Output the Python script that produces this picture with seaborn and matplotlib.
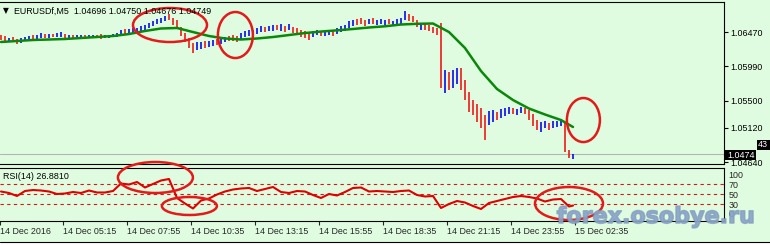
import numpy as np
import pandas as pd
import matplotlib
matplotlib.use("Agg")
import matplotlib.pyplot as plt
import seaborn as sns
from matplotlib.patches import Ellipse, Rectangle
import matplotlib.patheffects as pe

# ---------------- data ----------------
symbol_title = "EURUSDf,M5  1.04696 1.04750 1.04676 1.04749"
bid_price = 1.04749

bar_high = [
    1.06428, 1.06414, 1.06386, 1.06400, 1.06372, 1.06386, 1.06400, 1.06414, 1.06428, 1.06428,
    1.06456, 1.06442, 1.06442, 1.06442, 1.06456, 1.06470, 1.06442, 1.06428, 1.06428, 1.06428,
    1.06428, 1.06428, 1.06428, 1.06428, 1.06428, 1.06442, 1.06428, 1.06428, 1.06442, 1.06456,
    1.06499, 1.06513, 1.06513, 1.06527, 1.06527, 1.06555, 1.06569, 1.06597, 1.06625, 1.06653,
    1.06668, 1.06696, 1.06724, 1.06668, 1.06639, 1.06541, 1.06456, 1.06386, 1.06316, 1.06330,
    1.06330, 1.06344, 1.06344, 1.06358, 1.06372, 1.06386, 1.06400, 1.06414, 1.06428, 1.06414,
    1.06456, 1.06485, 1.06499, 1.06499, 1.06527, 1.06555, 1.06541, 1.06555, 1.06569, 1.06569,
    1.06583, 1.06555, 1.06583, 1.06541, 1.06527, 1.06499, 1.06485, 1.06470, 1.06485, 1.06499,
    1.06485, 1.06485, 1.06499, 1.06485, 1.06527, 1.06555, 1.06569, 1.06625, 1.06639, 1.06653,
    1.06668, 1.06639, 1.06653, 1.06668, 1.06639, 1.06653, 1.06639, 1.06653, 1.06625, 1.06653,
    1.06668, 1.06766, 1.06724, 1.06696, 1.06639, 1.06597, 1.06583, 1.06569, 1.06541, 1.06527,
    1.06597, 1.05935, 1.05907, 1.05935, 1.05964, 1.05964, 1.05795, 1.05626, 1.05513, 1.05457,
    1.05400, 1.05302, 1.05358, 1.05372, 1.05344, 1.05386, 1.05400, 1.05414, 1.05400, 1.05386,
    1.05414, 1.05400, 1.05372, 1.05316, 1.05231, 1.05203, 1.05217, 1.05189, 1.05217, 1.05217,
    1.05231, 1.05203, 1.04809, 1.04750,
]
bar_low = [
    1.06358, 1.06344, 1.06330, 1.06330, 1.06301, 1.06316, 1.06344, 1.06358, 1.06372, 1.06372,
    1.06386, 1.06386, 1.06386, 1.06400, 1.06400, 1.06400, 1.06386, 1.06386, 1.06386, 1.06386,
    1.06386, 1.06400, 1.06386, 1.06400, 1.06386, 1.06372, 1.06386, 1.06386, 1.06400, 1.06400,
    1.06428, 1.06442, 1.06456, 1.06456, 1.06470, 1.06485, 1.06499, 1.06527, 1.06555, 1.06583,
    1.06597, 1.06625, 1.06639, 1.06569, 1.06527, 1.06414, 1.06330, 1.06245, 1.06175, 1.06217,
    1.06231, 1.06245, 1.06259, 1.06273, 1.06287, 1.06301, 1.06330, 1.06344, 1.06344, 1.06330,
    1.06372, 1.06400, 1.06414, 1.06414, 1.06442, 1.06470, 1.06470, 1.06485, 1.06485, 1.06499,
    1.06485, 1.06470, 1.06499, 1.06456, 1.06428, 1.06400, 1.06386, 1.06358, 1.06400, 1.06428,
    1.06414, 1.06414, 1.06428, 1.06414, 1.06442, 1.06470, 1.06485, 1.06527, 1.06555, 1.06569,
    1.06583, 1.06555, 1.06583, 1.06583, 1.06569, 1.06583, 1.06569, 1.06583, 1.06569, 1.06583,
    1.06583, 1.06639, 1.06625, 1.06611, 1.06541, 1.06499, 1.06499, 1.06485, 1.06456, 1.06428,
    1.05682, 1.05612, 1.05654, 1.05682, 1.05738, 1.05654, 1.05513, 1.05344, 1.05302, 1.05203,
    1.05119, 1.04950, 1.05161, 1.05203, 1.05231, 1.05260, 1.05288, 1.05316, 1.05316, 1.05302,
    1.05330, 1.05316, 1.05231, 1.05147, 1.05091, 1.05062, 1.05119, 1.05091, 1.05119, 1.05133,
    1.05147, 1.04781, 1.04696, 1.04676,
]
bar_dir = list(
    "ddudduuudu" "ududuududu" "uduudduuuu" "uduuuuuuuu" "uudddddddu"
    "uduuduuddd" "uuuduuduud" "ududdddduu" "duuduuuuud" "dduduuuduu"
    "uudddudddd" "duduuddddd" "dduuduuudu" "udddduuduu" "uddu"
)

ma_index = list(range(0, 141, 4)) + [143]
ma_value = [
    1.06330, 1.06344, 1.06358, 1.06365, 1.06372, 1.06386, 1.06400, 1.06414, 1.06442, 1.06485,
    1.06520, 1.06527, 1.06470, 1.06414, 1.06379, 1.06365, 1.06379, 1.06400, 1.06428, 1.06456,
    1.06477, 1.06494, 1.06513, 1.06534, 1.06551, 1.06576, 1.06586, 1.06590, 1.06470, 1.06245,
    1.05921, 1.05668, 1.05513, 1.05393, 1.05309, 1.05231, 1.05133,
]

rsi_index = list(range(0, 143, 2)) + [143]
rsi_value = [
    55, 52, 46, 56, 58, 57, 55, 50, 51, 54,
    52, 57, 53, 53, 56, 71, 69, 74, 63, 70,
    77, 80, 42, 31, 21, 37, 41, 49, 55, 59,
    61, 62, 56, 60, 64, 54, 52, 56, 55, 48,
    42, 50, 47, 54, 62, 63, 55, 56, 55, 54,
    56, 57, 48, 45, 46, 22, 30, 36, 33, 26,
    20, 32, 36, 40, 44, 46, 44, 41, 35, 39,
    40, 25, 26.881,
]
rsi_levels = [70, 50, 30]
rsi_label = "RSI(14) 26.8810"

price_ticks = [1.0647, 1.0599, 1.0550, 1.0512, 1.0464]
price_tick_labels = ["1.06470", "1.05990", "1.05500", "1.05120", "1.04640"]
rsi_tick_pos = [89, 70, 50, 30, 11]
rsi_tick_labels = ["100", "70", "50", "30", "0"]
time_labels = ["14 Dec 2016", "14 Dec 05:15", "14 Dec 07:55", "14 Dec 10:35", "14 Dec 13:15",
               "14 Dec 15:55", "14 Dec 18:35", "14 Dec 21:15", "14 Dec 23:55", "15 Dec 02:35"]
watermark = "forex.osobye.ru"

# ---------------- styling ----------------
W, H = 770, 245
sns.set_theme(style="white")
plt.rcParams['font.family'] = ['Liberation Sans', 'DejaVu Sans']
BG = '#e0fce0'
UP, DOWN = '#0000f0', '#f01010'
FS = 6.4

fig = plt.figure(figsize=(W / 100, H / 100), dpi=100, facecolor=BG)


def px_rect(x0, y0, x1, y1):
    return [x0 / W, 1 - y1 / H, (x1 - x0) / W, (y1 - y0) / H]


ax = fig.add_axes(px_rect(0, 2, 724, 164))
rx = fig.add_axes(px_rect(0, 168, 724, 221))
for a in (ax, rx):
    a.set_facecolor(BG)
    a.spines['left'].set_visible(False)
    for s in ('top', 'right', 'bottom'):
        a.spines[s].set_color('black')
        a.spines[s].set_linewidth(0.8)
    a.set_xlim(-0.25, 180.75)

# ---------------- price panel ----------------
bars = pd.DataFrame({'i': np.arange(len(bar_high)), 'high': bar_high,
                     'low': bar_low, 'dir': bar_dir})
ax.axhline(bid_price, color='#b4b4b4', lw=0.8, zorder=0)
ax.vlines(bars['i'], bars['low'], bars['high'],
          colors=bars['dir'].map({'u': UP, 'd': DOWN}), linewidth=1.15, zorder=2)
ma = pd.DataFrame({'i': ma_index, 'ma': ma_value})
sns.lineplot(data=ma, x='i', y='ma', ax=ax, color='#0a880a', linewidth=1.8, zorder=3)
ax.set_ylim(1.04612, 1.06893)
ax.yaxis.tick_right()
ax.set_yticks(price_ticks)
ax.set_yticklabels(price_tick_labels)
ax.set_xticks([])
ax.set_xlabel('')
ax.set_ylabel('')
ax.tick_params(axis='y', direction='out', length=3, width=0.8, pad=1.5,
               labelsize=FS, colors='black', right=True)

# ---------------- RSI panel ----------------
for lv in rsi_levels:
    rx.axhline(lv, color='#d81818', lw=0.8, ls=(0, (3, 3)), zorder=1)
rsi = pd.DataFrame({'i': rsi_index, 'rsi': rsi_value})
sns.lineplot(data=rsi, x='i', y='rsi', ax=rx, color='#e00000', linewidth=1.5, zorder=3)
rx.set_ylim(-4, 102)
rx.yaxis.tick_right()
rx.set_yticks(rsi_tick_pos)
rx.set_yticklabels(rsi_tick_labels)
tick_pos = [-0.25] + [15.5 + 16 * k for k in range(len(time_labels) - 1)]
rx.set_xticks(tick_pos)
rx.set_xticklabels(time_labels, ha='left')
rx.set_xlabel('')
rx.set_ylabel('')
rx.tick_params(axis='y', direction='out', length=0, pad=3, labelsize=FS, right=True)
rx.tick_params(axis='x', direction='out', length=3, width=0.8, pad=1.5, labelsize=FS,
               bottom=True)

# ---------------- annotation ellipses ----------------
ell_kw = dict(fill=False, edgecolor='#e41a1a', linewidth=1.8, clip_on=False, zorder=6)
ax.add_patch(Ellipse((42.25, 1.06569), 18.5, 0.00479, **ell_kw))
ax.add_patch(Ellipse((58.6, 1.06428), 8.75, 0.00648, **ell_kw))
ax.add_patch(Ellipse((145.6, 1.05231), 8.25, 0.0062, **ell_kw))
rx.add_patch(Ellipse((38.6, 83), 18.75, 62, **ell_kw))
rx.add_patch(Ellipse((47.1, 26), 13.75, 36, **ell_kw))
rx.add_patch(Ellipse((142, 31), 17, 66, **ell_kw))

# ---------------- overlay texts ----------------
ov = fig.add_axes([0, 0, 1, 1], zorder=10)
ov.set_xlim(0, W)
ov.set_ylim(H, 0)
ov.axis('off')
ov.patch.set_alpha(0)
ov.text(3, 11, "\u25bc", fontsize=5.5, va='center', ha='left', color='black',
        family=['DejaVu Sans'])
ov.text(14, 11, symbol_title, fontsize=FS, va='center', ha='left', color='black')
ov.text(3, 176.5, rsi_label, fontsize=FS, va='center', ha='left', color='black')
ov.add_patch(Rectangle((725, 150), 31, 10, facecolor='black', edgecolor='none'))
ov.text(727, 155, "1.0474", fontsize=FS, va='center', ha='left', color='white')
ov.add_patch(Rectangle((757, 139.5), 13, 10, facecolor='black', edgecolor='none'))
ov.text(758, 144.5, "43", fontsize=FS, va='center', ha='left', color='white')
ov.text(656, 217, watermark, fontsize=16, fontweight='bold', color='#8aa3c8',
        alpha=0.8, ha='center', va='center', family=['DejaVu Sans'],
        path_effects=[pe.withStroke(linewidth=1.2, foreground='#6d88b0', alpha=0.6)])
ov.add_patch(Rectangle((0, 241.5), W, 4, facecolor='white', edgecolor='none'))
ov.plot([0, W], [241.5, 241.5], color='black', lw=0.8)

fig.savefig("out.png", dpi=100, facecolor=BG)
